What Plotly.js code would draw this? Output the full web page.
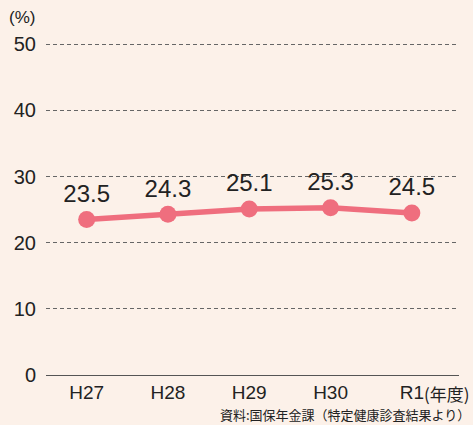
<!DOCTYPE html>
<html><head><meta charset="utf-8">
<script src="https://cdn.plot.ly/plotly-3.0.1.min.js"></script>
<style>body{margin:0;background:#fcf1e9;}#c{width:473px;height:425px;}</style>
</head><body><div id="c"></div>
<script>
const categories = ["H27","H28","H29","H30","R1"];
const values = [23.5, 24.3, 25.1, 25.3, 24.5];
const yTicks = [0,10,20,30,40,50];

const trace = {
  x: categories, y: values, type: "scatter", mode: "lines+markers+text",
  text: values.map(v => v.toFixed(1)), textposition: "top center",
  textfont: {family: "Liberation Sans, Arial, sans-serif", size: 24, color: "#222"},
  line: {color: "#ef6e7e", width: 5.5},
  marker: {color: "#ef6e7e", size: 17},
  cliponaxis: false, hoverinfo: "none"
};
const layout = {
  width: 473, height: 425,
  margin: {l: 46, r: 14, t: 41, b: 50},
  paper_bgcolor: "#fcf1e9", plot_bgcolor: "#fcf1e9",
  showlegend: false,
  font: {family: "Liberation Sans, Arial, sans-serif", color: "#222"},
  xaxis: {type: "category", range: [-0.5, 4.58], showgrid: false, zeroline: false,
    showline: true, linecolor: "#555", linewidth: 1.2,
    ticks: "", tickfont: {size: 19, color: "#222"}, fixedrange: true},
  yaxis: {range: [0, 50.5], tickvals: yTicks, showgrid: true, gridcolor: "#666",
    griddash: "4px,3px", gridwidth: 1, zeroline: false, showline: false, ticks: "",
    ticklabelstandoff: 9,
    tickfont: {size: 20, color: "#222"}, fixedrange: true},
  annotations: [
    {text: "(%)", xref: "paper", yref: "paper", x: -0.095, y: 1.0, yshift: 24, xanchor: "left", yanchor: "middle", showarrow: false, font: {size: 17, color: "#222"}},
    {text: "(年度)", xref: "paper", yref: "paper", x: 1.0, y: 0, yshift: -18, xshift: 13, xanchor: "right", yanchor: "middle", showarrow: false, font: {family: "Noto Sans CJK JP", size: 17, color: "#222"}},
    {text: "資料:国保年金課（特定健康診査結果より）", xref: "paper", yref: "paper", x: 1.0, y: 0, yshift: -39, xshift: 13, xanchor: "right", yanchor: "middle", showarrow: false, font: {family: "Noto Sans CJK JP", size: 13, color: "#222"}}
  ]
};
Plotly.newPlot("c", [trace], layout, {staticPlot: true});
</script></body></html>
